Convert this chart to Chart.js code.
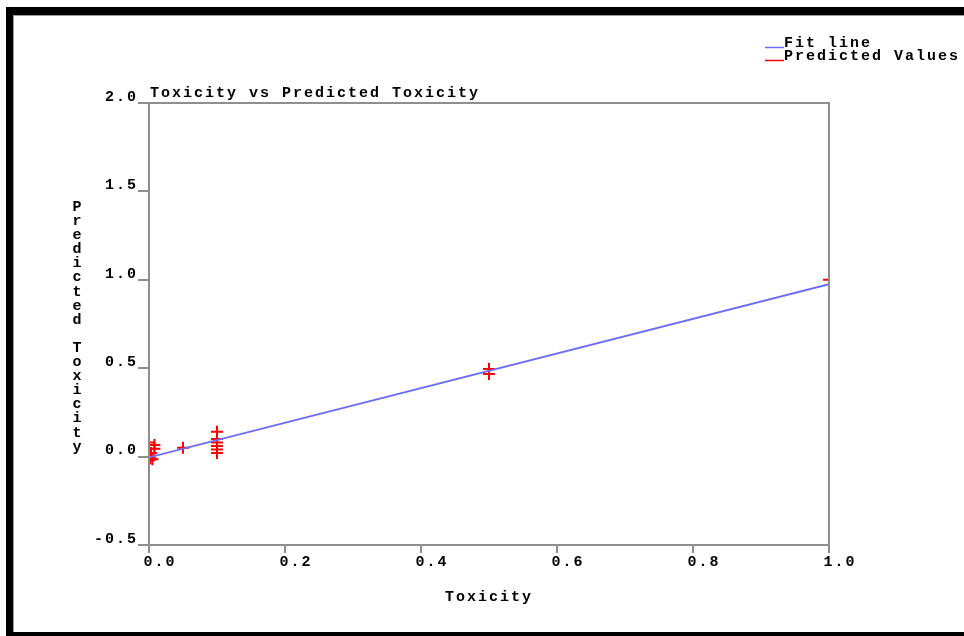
<!DOCTYPE html>
<html>
<head>
<meta charset="utf-8">
<script src="https://cdn.jsdelivr.net/npm/chart.js@4/dist/chart.umd.min.js"></script>
<style>
  html, body { margin: 0; padding: 0; background: #fff; }
  #wrap { position: relative; width: 964px; height: 636px; }
</style>
</head>
<body>
<div id="wrap"><canvas id="chart" width="964" height="636"></canvas></div>
<script>
// fitted line (two end points)
const fitX = [0, 1];
const fitY = [-0.005, 0.975];

// observed toxicity vs predicted toxicity
const predX = [0, 0.008, 0.008, 0.003, 0, 0.002, 0, 0.005, 0.05, 0.1, 0.1, 0.1, 0.1, 0.1, 0.1, 0.5, 0.5, 1.0];
const predY = [0.08, 0.065, 0.045, 0.02, 0.0, -0.01, -0.02, -0.015, 0.05, 0.14, 0.10, 0.08, 0.06, 0.04, 0.02, 0.495, 0.467, 1.0];

const xTicks = [0, 0.2, 0.4, 0.6, 0.8, 1.0];
const yTicks = [-0.5, 0, 0.5, 1.0, 1.5, 2.0];

const chartTitle = "Toxicity vs Predicted Toxicity";
const xTitle = "Toxicity";
const yTitle = "Predicted Toxicity";
const legendLabels = ["Fit line", "Predicted Values"];

const FONT = '"Liberation Mono", "DejaVu Sans Mono", monospace';
const GREY = "#8e8e8e";
const BLUE = "#6c6cf4";
const RED = "#ff0000";
const SPACING = "2px";

Chart.defaults.font.family = FONT;
Chart.defaults.font.size = 15;
Chart.defaults.font.weight = "bold";
Chart.defaults.color = "#000";

const spacing = {
  id: "spacing",
  beforeUpdate(chart) { chart.ctx.letterSpacing = SPACING; },
  beforeDraw(chart) { chart.ctx.letterSpacing = SPACING; },
};

const decor = {
  id: "decor",
  afterDraw(chart) {
    const ctx = chart.ctx;
    const a = chart.chartArea;
    ctx.save();

    // plot box
    ctx.strokeStyle = GREY;
    ctx.lineWidth = 2;
    ctx.strokeRect(a.left, a.top, a.right - a.left, a.bottom - a.top);

    // outer frame
    ctx.fillStyle = "#000";
    ctx.fillRect(6, 7, 970, 8);
    ctx.fillRect(6, 7, 7, 640);
    ctx.fillRect(6, 632, 970, 5);
    ctx.fillStyle = "#9a9a9a";
    ctx.fillRect(13, 15, 960, 1);
    ctx.fillRect(13, 15, 1, 617);

    ctx.font = "bold 15px " + FONT;
    ctx.fillStyle = "#000";
    ctx.textBaseline = "alphabetic";
    ctx.textAlign = "left";
    ctx.letterSpacing = SPACING;

    // title
    ctx.fillText(chartTitle, a.left + 1, a.top - 6);

    // legend
    const colors = [BLUE, RED];
    legendLabels.forEach((t, i) => {
      const y = 47 + i * 13;
      ctx.strokeStyle = colors[i];
      ctx.lineWidth = 1.5;
      ctx.beginPath();
      ctx.moveTo(765, y + 0.5);
      ctx.lineTo(784, y + 0.5);
      ctx.stroke();
      ctx.fillText(t, 784, y);
    });

    // stacked y axis title
    ctx.letterSpacing = "0px";
    ctx.textAlign = "center";
    ctx.textBaseline = "middle";
    const chars = yTitle.split("");
    const step = 14.1;
    const y0 = (a.top + a.bottom) / 2 - step * (chars.length - 1) / 2 + 3;
    chars.forEach((c, i) => ctx.fillText(c, 77, y0 + i * step));

    ctx.restore();
  },
};

new Chart(document.getElementById("chart"), {
  type: "scatter",
  data: {
    datasets: [
      {
        label: legendLabels[0],
        data: fitX.map((x, i) => ({ x, y: fitY[i] })),
        showLine: true,
        borderColor: BLUE,
        borderWidth: 1.8,
        pointRadius: 0,
        clip: 0,
      },
      {
        label: legendLabels[1],
        data: predX.map((x, i) => ({ x, y: predY[i] })),
        pointStyle: "cross",
        pointRadius: 6,
        pointBorderWidth: 2,
        borderColor: RED,
        backgroundColor: RED,
        clip: 0,
      },
    ],
  },
  options: {
    responsive: false,
    animation: false,
    layout: { padding: { left: 0, top: 103, right: 135, bottom: 0 } },
    plugins: {
      legend: { display: false },
      title: { display: false },
      tooltip: { enabled: false },
    },
    scales: {
      x: {
        type: "linear",
        min: 0,
        max: 1,
        afterBuildTicks: (s) => { s.ticks = xTicks.map((v) => ({ value: v })); },
        afterFit: (s) => { s.height = 91; },
        ticks: {
          callback: (v) => Number(v).toFixed(1),
          labelOffset: 11,
          padding: 0,
          maxRotation: 0,
        },
        grid: { drawOnChartArea: false, drawTicks: true, tickLength: 8, color: GREY, lineWidth: 2 },
        border: { display: true, color: GREY, width: 2 },
        title: { display: true, text: xTitle, padding: { top: 0, bottom: 30 } },
      },
      y: {
        type: "linear",
        min: -0.5,
        max: 2.0,
        afterBuildTicks: (s) => { s.ticks = yTicks.map((v) => ({ value: v })); },
        afterFit: (s) => { s.width = 149; },
        ticks: {
          callback: (v) => Number(v).toFixed(1),
          labelOffset: -6,
          padding: 0,
        },
        grid: { drawOnChartArea: false, drawTicks: true, tickLength: 11, color: GREY, lineWidth: 2 },
        border: { display: true, color: GREY, width: 2 },
      },
    },
  },
  plugins: [spacing, decor],
});
</script>
</body>
</html>
